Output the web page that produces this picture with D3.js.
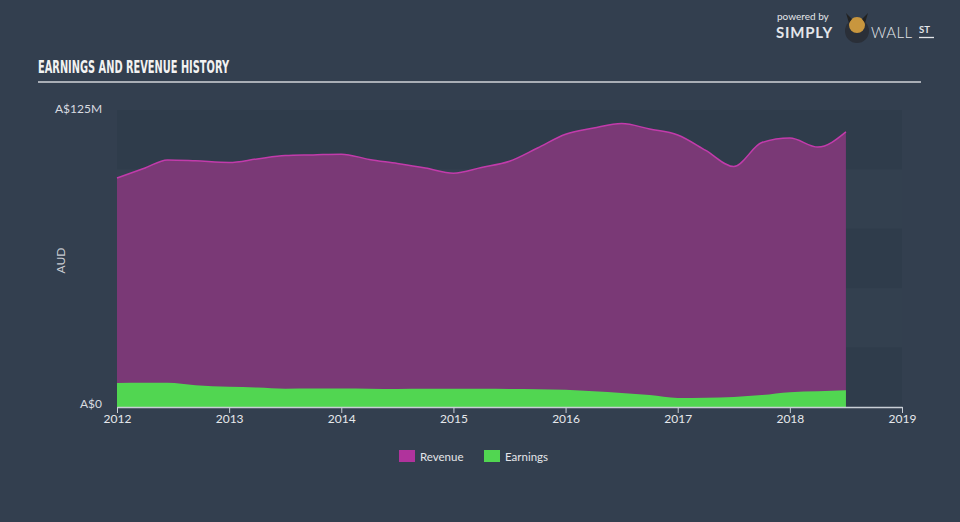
<!DOCTYPE html>
<html>
<head>
<meta charset="utf-8">
<script src="https://cdn.jsdelivr.net/npm/d3@7"></script>
<style>
  body { margin: 0; background: #333f4f; }
  svg { display: block; }
</style>
</head>
<body>
<svg width="960" height="522"></svg>
<script>
// data, values in A$ millions
var years = [2012, 2012.25, 2012.45, 2012.7, 2013, 2013.25, 2013.5, 2013.75, 2014, 2014.25,
  2014.5, 2014.75, 2015, 2015.25, 2015.5, 2015.75, 2016, 2016.25, 2016.5, 2016.75,
  2017, 2017.25, 2017.5, 2017.75, 2018, 2018.25, 2018.5];
var revenue = [96.4, 100.6, 104, 103.6, 102.9, 104.4, 105.8, 106.1, 106.4, 104.2,
  102.5, 100.6, 98.4, 100.8, 103.4, 109, 114.8, 117.4, 119.3, 117, 114.5, 108, 101.2,
  111.3, 113.2, 109.4, 115.8];
var earnings = [10.1, 10.2, 10.2, 9.2, 8.5, 8.2, 7.7, 7.8, 7.8, 7.7,
  7.6, 7.7, 7.7, 7.7, 7.6, 7.5, 7.3, 6.6, 5.9, 5.0, 3.8, 3.9, 4.2, 5.0, 6.2, 6.6, 7.0];
var xTicks = [2012, 2013, 2014, 2015, 2016, 2017, 2018, 2019];
var yMax = 125;
var seriesNames = ["Revenue", "Earnings"];
var seriesColors = ["#b0339c", "#51d651"];

var svg = d3.select("svg"),
  margin = {top: 110, right: 58, bottom: 115, left: 117},
  width = 960 - margin.left - margin.right,
  height = 522 - margin.top - margin.bottom,
  g = svg.append("g").attr("transform", "translate(" + margin.left + "," + margin.top + ")");

var x = d3.scaleLinear().domain([2012, 2019]).range([0, width]);
var y = d3.scaleLinear().domain([0, yMax]).range([height, 0]);

// title + rule
svg.append("text")
  .attr("x", 38).attr("y", 73)
  .attr("fill", "#f2f2f2")
  .attr("font-family", "'Liberation Sans Narrow', 'DejaVu Sans Condensed', sans-serif")
  .attr("font-weight", "bold")
  .attr("font-size", 18)
  .attr("textLength", 191)
  .attr("lengthAdjust", "spacingAndGlyphs")
  .text("EARNINGS AND REVENUE HISTORY");
svg.append("line")
  .attr("x1", 38).attr("x2", 921).attr("y1", 82).attr("y2", 82)
  .attr("stroke", "#a9aeb6").attr("stroke-width", 2);

// logo
var logo = svg.append("g").attr("font-family", "Lato, 'Open Sans', sans-serif").attr("fill", "#e4e6ea");
logo.append("text").attr("x", 777).attr("y", 20).attr("font-size", 10).text("powered by");
logo.append("text").attr("x", 776).attr("y", 38).attr("font-size", 15).attr("font-weight", "bold")
  .attr("letter-spacing", 0.8).text("SIMPLY");
logo.append("circle").attr("cx", 857).attr("cy", 31).attr("r", 12).attr("fill", "#2a2f38");
logo.append("circle").attr("cx", 857).attr("cy", 25).attr("r", 8).attr("fill", "#c8963e");
logo.append("path").attr("d", "M846,13 L849,23 L852,19 Z M868,13 L865,23 L862,19 Z").attr("fill", "#222");
logo.append("text").attr("x", 871).attr("y", 38).attr("font-size", 15).attr("font-weight", 300)
  .attr("letter-spacing", 0.5).text("WALL");
logo.append("text").attr("x", 919).attr("y", 33).attr("font-size", 9.5).attr("font-weight", "bold").text("ST");
logo.append("line").attr("x1", 919).attr("x2", 934).attr("y1", 37.5).attr("y2", 37.5)
  .attr("stroke", "#e4e6ea").attr("stroke-width", 1.3);

// background bands
var bands = d3.range(5);
g.selectAll("rect.band").data(bands).enter().append("rect")
  .attr("class", "band")
  .attr("x", 0)
  .attr("width", width)
  .attr("y", function(d) { return y(yMax - d * yMax / 5); })
  .attr("height", y(0) - y(yMax / 5))
  .attr("fill", function(d) { return d % 2 ? "#33404f" : "#2f3c4b"; });

// areas
var pts = years.map(function(t, i) { return {t: t, r: revenue[i], e: earnings[i]}; });
var revArea = d3.area().curve(d3.curveMonotoneX)
  .x(function(d) { return x(d.t); }).y0(y(0)).y1(function(d) { return y(d.r); });
var revLine = d3.line().curve(d3.curveMonotoneX)
  .x(function(d) { return x(d.t); }).y(function(d) { return y(d.r); });
var earnArea = d3.area().curve(d3.curveMonotoneX)
  .x(function(d) { return x(d.t); }).y0(y(0)).y1(function(d) { return y(d.e); });

g.append("path").datum(pts).attr("d", revArea).attr("fill", "#7a3976");
g.append("path").datum(pts).attr("d", revLine).attr("fill", "none")
  .attr("stroke", "#c23bab").attr("stroke-width", 1.5);
g.append("path").datum(pts).attr("d", earnArea).attr("fill", "#51d651");

// x axis
var xAxis = g.append("g")
  .attr("transform", "translate(0," + height + ")")
  .call(d3.axisBottom(x).tickValues(xTicks).tickFormat(d3.format("d")).tickSize(6).tickSizeOuter(0));
xAxis.select(".domain").attr("stroke", "#c9ced6").attr("stroke-width", 1.5);
xAxis.selectAll(".tick line").attr("stroke", "#c9ced6");
xAxis.selectAll(".tick text")
  .attr("fill", "#e6e8ec").attr("font-size", 12).attr("dy", "0.55em")
  .attr("font-family", "Lato, 'Open Sans', sans-serif");

// y labels
var yLabels = [{v: yMax, s: "A$125M"}, {v: 0, s: "A$0"}];
g.selectAll("text.ylab").data(yLabels).enter().append("text")
  .attr("class", "ylab")
  .attr("x", function(d) { return d.v ? -62 : -15; })
  .attr("y", function(d) { return y(d.v) + (d.v ? 3 : 1); })
  .attr("text-anchor", function(d) { return d.v ? "start" : "end"; })
  .attr("fill", "#d8dbe0").attr("font-size", 12)
  .attr("font-family", "Lato, 'Open Sans', sans-serif")
  .text(function(d) { return d.s; });

svg.append("text")
  .attr("transform", "translate(65," + (margin.top + height / 2 + 2) + ") rotate(-90)")
  .attr("text-anchor", "middle")
  .attr("fill", "#c9ccd2").attr("font-size", 12)
  .attr("font-family", "Lato, 'Open Sans', sans-serif")
  .text("AUD");

// legend
var legend = svg.append("g").attr("font-family", "Lato, 'Open Sans', sans-serif").attr("font-size", 11.5)
  .selectAll("g").data(seriesNames).enter().append("g")
  .attr("transform", function(d, i) { return "translate(" + (399 + i * 85) + ",450)"; });
legend.append("rect").attr("width", 16).attr("height", 12)
  .attr("fill", function(d, i) { return seriesColors[i]; });
legend.append("text").attr("x", 21).attr("y", 10.5).attr("fill", "#e3e5e9")
  .text(function(d) { return d; });
</script>
</body>
</html>
